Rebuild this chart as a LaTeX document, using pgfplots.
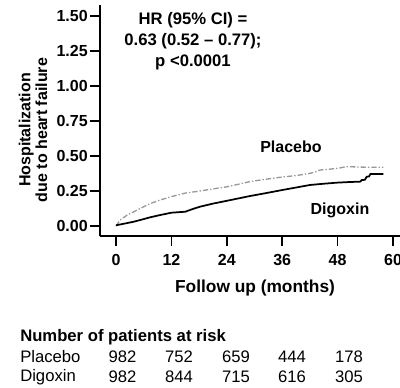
\documentclass[border=0pt]{standalone}
\usepackage{pgfplots}
\pgfplotsset{compat=1.18}
\usepackage{fontspec}
\setmainfont{Liberation Sans}
\begin{document}
\begin{tikzpicture}[x=0.75pt,y=0.75pt]
\useasboundingbox (0,0) rectangle (400,387);
\begin{axis}[
  at={(75pt,113.25pt)}, anchor=south west,
  scale only axis, width=225pt, height=173.25pt,
  xmin=-3.466, xmax=61.51, ymin=-0.0714, ymax=1.5786,
  axis lines*=left,
  axis line style={line width=1.1pt},
  tick align=outside, major tick length=7.5pt,
  tick style={line width=1.1pt, black},
  xtick={0,12,24,36,48,60},
  ytick={0,0.25,0.5,0.75,1,1.25,1.5},
  /pgf/number format/assume math mode=true,
  ticklabel style={font=\bfseries\fontsize{12}{14}\selectfont},
  yticklabel style={/pgf/number format/fixed, /pgf/number format/fixed zerofill, /pgf/number format/precision=2, inner sep=1.5pt},
  xticklabel style={yshift=-3pt},
  clip=false,
]
\addplot[gray!80, dash pattern=on 4pt off 1.5pt on 1pt off 1.5pt, line width=1pt] coordinates {
(0,0.0) (0.9,0.043) (1.2,0.05) (2.5,0.08) (3.75,0.10) (5.5,0.13) (7.4,0.16) (9.5,0.185) (12,0.21) (15,0.235) (18.2,0.25) (21,0.265) (24,0.28) (26.5,0.298) (29,0.317) (32,0.332) (36,0.35) (39,0.36) (42,0.376) (43.5,0.39) (44.2,0.40) (46,0.405) (48,0.412) (50,0.424) (54,0.42) (57.9,0.42)
};
\addplot[black, line width=1.3pt] coordinates {
(0,0.005) (1.5,0.015) (3.75,0.03) (5.5,0.045) (7.4,0.062) (9.5,0.078) (12,0.095) (15,0.102) (16.5,0.12) (18.2,0.138) (21,0.16) (24,0.18) (26.5,0.197) (29,0.214) (32,0.232) (36,0.257) (39,0.275) (42,0.293) (45,0.302) (48,0.31) (50.5,0.314) (52.9,0.317) (53.2,0.328) (53.9,0.33) (54.3,0.352) (54.8,0.354) (55.1,0.371) (57.9,0.371)
};
\end{axis}
\node[font=\bfseries\fontsize{12}{12.5}\selectfont, align=center, rotate=90] at (33,387-130) {Hospitalization\\due to heart failure};
\node[font=\bfseries\fontsize{13}{15}\selectfont] at (255,387-288) {Follow up (months)};
\node[font=\bfseries\fontsize{12.5}{15.75}\selectfont, align=center] at (193,387-41) {HR (95\% CI) =\\0.63 (0.52 -- 0.77);\\p <0.0001};
\node[font=\bfseries\fontsize{12}{14}\selectfont] at (291,387-147) {Placebo};
\node[font=\bfseries\fontsize{12}{14}\selectfont] at (340,387-210) {Digoxin};
\node[font=\bfseries\fontsize{12.5}{14}\selectfont, anchor=west, inner sep=0pt] at (20,387-337) {Number of patients at risk};
\node[font=\fontsize{12.5}{14}\selectfont, anchor=west, inner sep=0pt] at (20,387-357) {Placebo};
\node[font=\fontsize{12.5}{14}\selectfont, anchor=west, inner sep=0pt] at (20,387-377) {Digoxin};
\foreach \xx/\a/\b in {122.5/982/982, 179/752/844, 236/659/715, 292/444/616, 349/178/305} {
  \node[font=\fontsize{12.5}{14}\selectfont, inner sep=0pt] at (\xx,387-357) {\a};
  \node[font=\fontsize{12.5}{14}\selectfont, inner sep=0pt] at (\xx,387-377) {\b};
}
\end{tikzpicture}
\end{document}
